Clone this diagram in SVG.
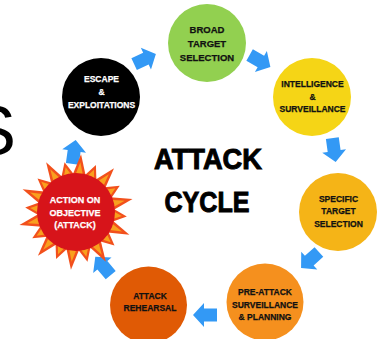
<svg xmlns="http://www.w3.org/2000/svg" xmlns:xlink="http://www.w3.org/1999/xlink" width="385" height="339" viewBox="0 0 385 339">
<style>
.lbl{font-family:"Liberation Sans",Arial,sans-serif;font-weight:bold;text-anchor:middle;fill:#111;stroke:#111;stroke-width:0.25}
.w{fill:#fff;stroke:#fff}
.title{font-family:"Liberation Sans",Arial,sans-serif;font-weight:bold;text-anchor:middle;fill:#000;stroke:#000;stroke-width:1;font-size:29px}
.arrow{fill:#3399F5}
</style>
<defs>
<polygon id="arr" points="-12,-6.5 1,-6.5 1,-12 12,0 1,12 1,6.5 -12,6.5"/>
<g id="spikeL"><polygon points="-6.5,-37 0,-58 6.5,-37" fill="#F2501C"/><polygon points="-3.5,-38 0,-50 3.5,-38" fill="#F9A01E"/></g>
<g id="spikeS"><polygon points="-6.5,-37 0,-51 6.5,-37" fill="#F2501C"/><polygon points="-3.5,-38 0,-46 3.5,-38" fill="#F9A01E"/></g>
</defs>
<rect width="385" height="339" fill="#fff"/>
<text x="16" y="155" font-family="Liberation Sans,Arial,sans-serif" font-size="70" text-anchor="end" fill="#000">S</text>
<g id="title">
<text class="title" x="208" y="169" textLength="108" lengthAdjust="spacingAndGlyphs">ATTACK</text>
<text class="title" x="207" y="212" textLength="85" lengthAdjust="spacingAndGlyphs">CYCLE</text>
</g>
<g id="connectors">
<use href="#arr" class="arrow" transform="translate(145,59) rotate(-25)"/>
<use href="#arr" class="arrow" transform="translate(260,61) rotate(30)"/>
<use href="#arr" class="arrow" transform="translate(334,150) rotate(82)"/>
<use href="#arr" class="arrow" transform="translate(310,260) rotate(138)"/>
<use href="#arr" class="arrow" transform="translate(205,315) rotate(180)"/>
<use href="#arr" class="arrow" transform="translate(103,266) rotate(-130)"/>
<use href="#arr" class="arrow" transform="translate(74,152) rotate(-82)"/>
</g>
<g id="broad">
<circle cx="207" cy="43" r="39" fill="#92D050"/>
<text class="lbl" font-size="9.5" x="207" y="33">BROAD</text>
<text class="lbl" font-size="9.5" x="207" y="47">TARGET</text>
<text class="lbl" font-size="9.5" x="207" y="61">SELECTION</text>
</g>
<g id="intel">
<circle cx="312" cy="97" r="39" fill="#F5D516"/>
<text class="lbl" font-size="8.5" x="312.5" y="87">INTELLIGENCE</text>
<text class="lbl" font-size="8.5" x="312.5" y="99.5">&amp;</text>
<text class="lbl" font-size="8.5" x="312.5" y="112">SURVEILLANCE</text>
</g>
<g id="specific">
<circle cx="338" cy="212" r="39" fill="#F5B417"/>
<text class="lbl" font-size="8.5" x="338.5" y="201.5">SPECIFIC</text>
<text class="lbl" font-size="8.5" x="338.5" y="214">TARGET</text>
<text class="lbl" font-size="8.5" x="338.5" y="226.5">SELECTION</text>
</g>
<g id="preattack">
<circle cx="265" cy="302" r="38.5" fill="#F5901E"/>
<text class="lbl" font-size="8.5" x="265" y="295">PRE-ATTACK</text>
<text class="lbl" font-size="8.5" x="265" y="307.5">SURVEILLANCE</text>
<text class="lbl" font-size="8.5" x="265" y="319.5">&amp; PLANNING</text>
</g>
<g id="rehearsal">
<circle cx="148.5" cy="305" r="38.5" fill="#E05A05"/>
<text class="lbl" font-size="8.5" x="150" y="298.5">ATTACK</text>
<text class="lbl" font-size="8.5" x="150" y="310.5">REHEARSAL</text>
</g>
<g id="action">
<use href="#spikeL" transform="translate(76,212) rotate(5)"/>
<use href="#spikeS" transform="translate(76,212) rotate(23)"/>
<use href="#spikeL" transform="translate(76,212) rotate(41)"/>
<use href="#spikeS" transform="translate(76,212) rotate(59)"/>
<use href="#spikeL" transform="translate(76,212) rotate(77)"/>
<use href="#spikeS" transform="translate(76,212) rotate(95)"/>
<use href="#spikeL" transform="translate(76,212) rotate(113)"/>
<use href="#spikeS" transform="translate(76,212) rotate(131)"/>
<use href="#spikeL" transform="translate(76,212) rotate(149)"/>
<use href="#spikeS" transform="translate(76,212) rotate(167)"/>
<use href="#spikeL" transform="translate(76,212) rotate(185)"/>
<use href="#spikeS" transform="translate(76,212) rotate(203)"/>
<use href="#spikeL" transform="translate(76,212) rotate(221)"/>
<use href="#spikeS" transform="translate(76,212) rotate(239)"/>
<use href="#spikeL" transform="translate(76,212) rotate(257)"/>
<use href="#spikeS" transform="translate(76,212) rotate(275)"/>
<use href="#spikeL" transform="translate(76,212) rotate(293)"/>
<use href="#spikeS" transform="translate(76,212) rotate(311)"/>
<use href="#spikeL" transform="translate(76,212) rotate(329)"/>
<use href="#spikeS" transform="translate(76,212) rotate(347)"/>
<circle cx="76" cy="212" r="39" fill="#D7141A"/>
<text class="lbl w" font-size="9" x="75" y="203">ACTION ON</text>
<text class="lbl w" font-size="9" x="75" y="215.5">OBJECTIVE</text>
<text class="lbl w" font-size="9" x="75" y="227.5">(ATTACK)</text>
</g>
<g id="escape">
<circle cx="101" cy="97" r="39" fill="#000"/>
<text class="lbl w" font-size="8.5" x="101.5" y="82">ESCAPE</text>
<text class="lbl w" font-size="8.5" x="101.5" y="94.5">&amp;</text>
<text class="lbl w" font-size="8.5" x="101.5" y="107.5">EXPLOITATIONS</text>
</g>
</svg>
